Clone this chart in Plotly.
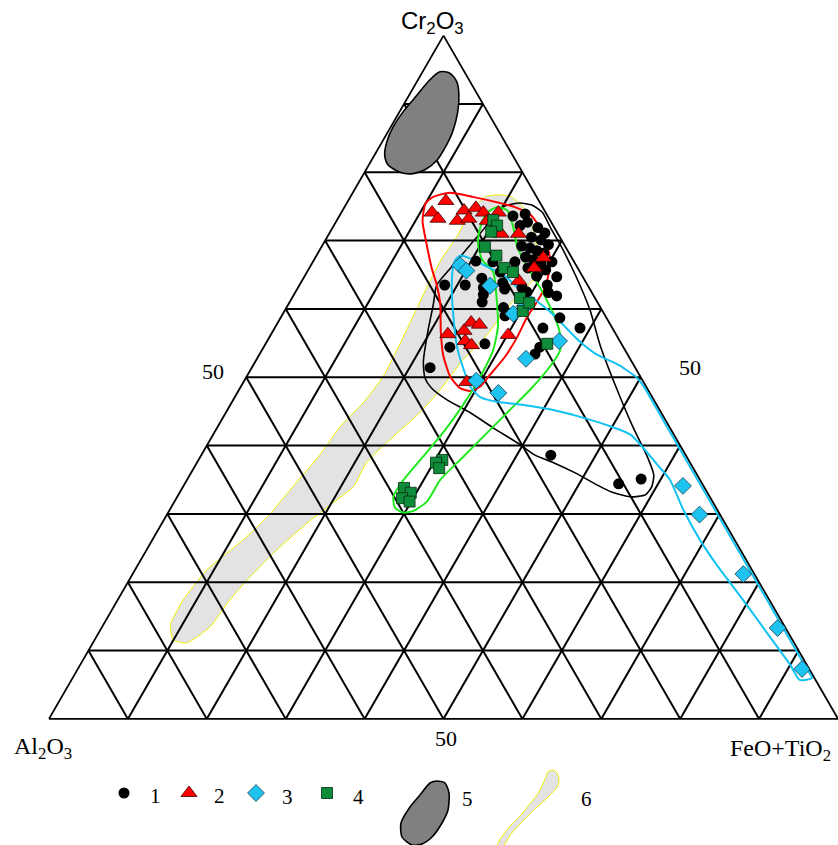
import plotly.graph_objects as go

W, H = 838, 845

# ------------------------------------------------------------------
# Compositions, wt.% normalised to 100 (Cr2O3, FeO+TiO2; Al2O3 is the rest)
# ------------------------------------------------------------------
# 1 - black circles
S1_CR = [73.6, 73.9, 72.7, 72.2, 71.9, 71.1, 70.5, 70.1, 69.4, 69.2,
         68.9, 68.5, 68.2, 67.6, 67.2, 66.7, 66.9, 66.9, 66.0, 65.7,
         64.8, 64.7, 67.0, 64.5, 63.5, 63.5, 63.1, 62.1, 61.0, 63.8,
         62.9, 63.1, 62.5, 60.2, 59.0, 63.5, 62.4, 61.9, 58.7, 57.2,
         57.2, 54.9, 54.4, 54.4, 53.4, 51.4, 38.6, 34.4, 35.1, 65.4,
         66.9]
S1_FT = [22.0, 23.4, 24.3, 23.6, 26.0, 27.3, 25.9, 27.3, 28.6, 25.3,
         26.5, 27.6, 28.6, 26.6, 27.8, 29.0, 25.6, 30.3, 27.7, 30.1,
         29.4, 32.0, 20.6, 22.6, 21.0, 18.4, 23.5, 24.0, 24.4, 25.6,
         26.3, 28.4, 29.3, 27.5, 28.3, 31.4, 32.1, 33.4, 35.4, 38.7,
         34.0, 27.8, 23.6, 35.0, 34.9, 22.6, 44.3, 55.0, 57.5, 24.5,
         22.8]

# 2 - red triangles
S2_CR = [75.8, 74.1, 73.2, 74.4, 74.8, 74.1, 72.9, 73.2, 72.9, 74.1,
         71.0, 71.0, 67.5, 66.0, 64.1, 58.0, 57.7, 56.3, 56.8, 55.3,
         54.7, 56.2, 49.3]
S2_FT = [12.4, 11.5, 12.7, 15.4, 16.7, 18.0, 15.3, 16.6, 19.1, 19.9,
         21.8, 24.0, 28.9, 28.5, 27.5, 24.5, 25.7, 22.4, 24.2, 25.1,
         26.2, 30.1, 28.3]

# 3 - blue diamonds
S3_CR = [66.4, 65.6, 63.4, 60.4, 59.3, 55.3, 52.7, 49.5, 47.7, 34.1,
         29.9, 21.2, 13.3, 7.3]
S3_FT = [18.9, 20.1, 24.2, 30.1, 29.2, 37.0, 34.1, 29.4, 33.1, 63.3,
         67.5, 77.4, 85.7, 91.8]

# 4 - green squares
S4_CR = [73.0, 72.2, 71.3, 69.1, 67.8, 66.0, 65.4, 61.6, 59.7, 60.9,
         54.9, 37.9, 37.5, 36.7, 33.8, 33.1, 32.3, 31.8]
S4_FT = [19.8, 20.7, 20.4, 20.7, 22.8, 24.7, 26.1, 28.9, 30.2, 30.4,
         35.7, 30.9, 30.3, 31.1, 28.1, 29.3, 28.6, 29.8]

# 5 - dark field (outline)
F5_CR = [94.7, 94.5, 93.2, 91.3, 88.8, 85.9, 83.6, 81.8, 80.4, 79.8,
         80.0, 81.1, 82.5, 84.4, 86.6, 88.8, 91.3, 93.5]
F5_FT = [2.2, 3.55, 5.1, 6.3, 7.4, 8.2, 8.4, 8.3, 7.5, 6.25,
         4.5, 2.4, 1.3, 0.6, 0.3, 0.45, 1.0, 1.5]

# 6 - light field (outline)
F6_CR = [76.5, 76.7, 76.3, 74.5, 71.3, 67.9, 65.0, 62.8, 60.6, 56.2,
         52.5, 48.2, 44.8, 41.6, 37.6, 34.0, 32.1, 28.7, 24.7, 20.8,
         17.4, 13.5, 11.1, 11.6, 13.8, 17.4, 21.8, 26.2, 29.6, 33.5,
         38.6, 42.7, 46.3, 50.1, 54.0, 58.8, 63.2, 67.6, 70.5, 73.5,
         75.5]
F6_FT = [17.2, 18.8, 20.6, 23.1, 25.8, 28.0, 29.4, 28.8, 28.1, 27.4,
         26.2, 25.5, 24.6, 23.1, 21.5, 21.6, 20.5, 18.4, 16.5, 15.1,
         14.2, 13.7, 11.9, 9.9, 8.5, 8.3, 9.1, 11.5, 12.9, 13.8,
         15.0, 15.5, 16.7, 17.3, 17.1, 16.7, 16.3, 16.1, 16.4, 16.3,
         16.6]

# envelope of group 1 (black)
E1_CR = [75.1, 75.5, 75.2, 74.1, 71.9, 69.4, 65.0, 59.9, 54.7, 48.9,
         43.0, 38.2, 35.7, 34.0, 32.8, 32.5, 33.2, 34.4, 36.0, 37.5,
         38.6, 40.1, 42.6, 44.8, 46.7, 48.4, 49.9, 52.3, 56.9, 60.6,
         63.5, 66.7, 69.4, 71.9, 74.1]
E1_FT = [20.3, 21.9, 23.6, 25.5, 27.6, 30.1, 34.2, 38.6, 42.5, 47.3,
         52.4, 56.8, 58.8, 59.4, 59.2, 57.4, 54.7, 52.0, 48.7, 45.2,
         42.3, 39.7, 35.0, 31.0, 27.1, 24.3, 22.7, 21.3, 19.6, 18.4,
         17.4, 18.1, 18.7, 19.3, 19.5]

# envelope of group 2 (red)
E2_CR = [74.1, 75.5, 76.4, 77.0, 76.4, 75.5, 74.9, 73.8, 71.9, 69.4,
         66.9, 65.0, 63.2, 60.6, 58.7, 55.8, 53.0, 50.3, 48.6, 48.0,
         48.4, 50.1, 53.3, 56.9, 60.6, 63.5, 66.0, 70.1, 72.7]
E2_FT = [10.4, 10.0, 10.5, 12.3, 15.5, 19.4, 21.6, 24.1, 26.3, 28.4,
         30.1, 30.8, 31.3, 31.3, 31.2, 31.4, 31.3, 30.7, 30.3, 29.4,
         27.9, 25.8, 23.3, 21.2, 19.3, 17.4, 15.5, 12.7, 11.0]

# envelope of group 3 (blue)
E3_CR = [66.0, 67.2, 67.8, 67.5, 66.2, 65.0, 63.2, 61.6, 59.6, 57.7,
         55.2, 53.3, 51.7, 49.9, 48.7, 44.0, 36.0, 28.0, 20.0, 12.0,
         7.5, 6.0, 5.7, 7.9, 12.6, 17.9, 22.5, 26.2, 30.6, 35.0,
         37.2, 41.6, 43.0, 44.2, 45.2, 46.0, 46.4, 47.1, 48.6, 51.5,
         54.3, 59.6, 63.5]
E3_FT = [18.2, 17.9, 18.2, 19.4, 22.4, 25.1, 27.7, 30.5, 33.7, 36.3,
         39.7, 42.8, 46.5, 49.6, 51.0, 55.7, 63.7, 71.7, 79.7, 87.7,
         92.2, 93.7, 92.3, 90.0, 84.7, 78.7, 73.4, 69.4, 65.1, 61.2,
         58.5, 52.9, 49.2, 45.2, 41.3, 36.7, 33.6, 31.1, 29.1, 26.7,
         24.6, 21.4, 19.3]

# envelope of group 4 (green)
E4_CR = [74.9, 74.4, 71.9, 69.1, 66.2, 63.2, 60.9, 58.7, 56.2, 54.0,
         51.5, 48.2, 45.2, 41.9, 38.3, 35.0, 31.8, 30.4, 30.2, 30.9,
         32.5, 34.7, 38.3, 41.9, 46.0, 50.6, 54.0, 57.4, 61.3, 65.4,
         67.2, 69.7, 71.9, 74.1]
E4_FT = [19.4, 20.9, 22.9, 24.8, 27.5, 30.6, 32.8, 34.8, 36.7, 37.8,
         37.7, 36.9, 35.8, 34.6, 33.3, 32.1, 32.0, 30.9, 29.8, 28.4,
         27.4, 27.4, 28.2, 29.0, 29.5, 29.6, 29.3, 28.2, 26.1, 23.6,
         21.3, 19.5, 18.7, 18.5]

AXIS_STEP = 10
TERNARY_SUM = 100
TICK_LABEL = "50"
LEGEND_NAMES = ["1", "2", "3", "4", "5", "6"]

SERIF = "Liberation Serif, Times New Roman, serif"
SANS = "Liberation Sans, Arial, sans-serif"


def tern(cr, ft):
    """a = Cr2O3, c = FeO+TiO2, b = Al2O3 (remainder to the sum)."""
    cr, ft = list(cr), list(ft)
    al = [round(TERNARY_SUM - x - y, 3) for x, y in zip(cr, ft)]
    return dict(a=cr, b=al, c=ft)


def closed(seq):
    seq = list(seq)
    return seq + seq[:1]


fig = go.Figure()

# ---- bottom layer ("ternary"): light field, sits under the grid ----
fig.add_trace(go.Scatterternary(
    subplot="ternary", mode="lines", fill="toself", fillcolor="#e3e3e3",
    line=dict(color="#f2f200", width=1, shape="spline", smoothing=0.5),
    hoverinfo="skip", showlegend=False,
    **tern(closed(F6_CR), closed(F6_FT))))

# ---- middle layer ("ternary2"): only the triangular grid ----
fig.add_trace(go.Scatterternary(
    subplot="ternary2", mode="markers", marker=dict(opacity=0, size=1),
    hoverinfo="skip", showlegend=False, **tern([TERNARY_SUM / 3],
                                                [TERNARY_SUM / 3])))

# ---- top layer ("ternary3"): dark field, envelopes, analyses ----
fig.add_trace(go.Scatterternary(
    subplot="ternary3", mode="lines", fill="toself", fillcolor="#808080",
    line=dict(color="black", width=1.6, shape="spline", smoothing=0.8),
    hoverinfo="skip", showlegend=False,
    **tern(closed(F5_CR), closed(F5_FT))))

for cr, ft, col in [(E1_CR, E1_FT, "black"), (E2_CR, E2_FT, "#ff0000"),
                    (E4_CR, E4_FT, "#1ee81e"), (E3_CR, E3_FT, "#12c2f2")]:
    fig.add_trace(go.Scatterternary(
        subplot="ternary3", mode="lines",
        line=dict(color=col, width=2 if col != "black" else 1.6,
                  shape="spline", smoothing=0.6),
        hoverinfo="skip", showlegend=False,
        **tern(closed(cr), closed(ft))))

MARKERS = [
    (S1_CR, S1_FT, dict(symbol="circle", size=11, color="black",
                        line=dict(width=0))),
    (S2_CR, S2_FT, dict(symbol="triangle-up", size=14, color="#ff0000",
                        line=dict(color="#400000", width=0.8))),
    (S3_CR, S3_FT, dict(symbol="diamond", size=13, color="#1ec3f0",
                        line=dict(color="#1c3c50", width=0.8))),
    (S4_CR, S4_FT, dict(symbol="square", size=11, color="#0e8c3a",
                        line=dict(color="#062810", width=0.8))),
]
for cr, ft, mk in MARKERS:
    fig.add_trace(go.Scatterternary(
        subplot="ternary3", mode="markers", marker=mk,
        hoverinfo="skip", showlegend=False, **tern(cr, ft)))

# ---- legend row (drawn on a hidden pixel-scaled cartesian frame) ----
LEG_Y = 793
LEG_MARK_X = [124, 189, 256, 327]
for (cr, ft, mk), lx in zip(MARKERS, LEG_MARK_X):
    fig.add_trace(go.Scatter(x=[lx], y=[LEG_Y], mode="markers", marker=mk,
                             hoverinfo="skip", showlegend=False,
                             cliponaxis=False))

LEGEND_BLOB5 = [(437, 781), (445, 783), (449, 793), (448, 810), (442, 823),
                (432, 837), (422, 844), (412, 845), (402, 837), (401, 823),
                (410, 807), (420, 795), (430, 783)]
LEGEND_BLOB6 = [(497, 846), (503, 835), (512, 824), (523, 813), (528, 806),
                (534, 799), (540, 790), (545, 779), (548, 772), (553, 770),
                (557, 773), (559, 779), (558, 786), (553, 792), (545, 800),
                (537, 807), (531, 813), (522, 822), (511, 834), (503, 846)]
for pts, fc, lc, lw in [(LEGEND_BLOB5, "#808080", "black", 1.6),
                        (LEGEND_BLOB6, "#e3e3e3", "#f2f200", 1)]:
    xs, ys = zip(*closed(pts))
    fig.add_trace(go.Scatter(x=list(xs), y=list(ys), mode="lines",
                             fill="toself", fillcolor=fc,
                             line=dict(color=lc, width=lw, shape="spline",
                                       smoothing=0.7),
                             hoverinfo="skip", showlegend=False))


def note(text, x, y, size, family, color="black"):
    return dict(text=text, x=x / W, y=1 - y / H, xref="paper", yref="paper",
                showarrow=False, xanchor="center", yanchor="middle",
                font=dict(size=size, family=family, color=color))


annotations = [
    note("Cr<sub>2</sub>O<sub>3</sub>", 432, 22, 24, SANS),
    note("Al<sub>2</sub>O<sub>3</sub>", 43, 748, 24, SERIF),
    note("FeO+TiO<sub>2</sub>", 780, 750, 24, SERIF),
    note(TICK_LABEL, 213, 371, 22, SERIF),
    note(TICK_LABEL, 690, 367, 22, SERIF),
    note(TICK_LABEL, 446, 738, 22, SERIF),
]
LEG_TEXT_X = [155, 219, 287, 358, 467, 586]
LEG_TEXT_Y = [796, 796, 797, 797, 799, 799]
for name, tx, ty in zip(LEGEND_NAMES, LEG_TEXT_X, LEG_TEXT_Y):
    annotations.append(note(name, tx, ty, 21, SERIF))

grid_axis = dict(min=0, tickmode="linear", tick0=0, dtick=AXIS_STEP,
                 showgrid=True, gridcolor="black", gridwidth=1.6,
                 showline=True, linecolor="black", linewidth=1.8,
                 showticklabels=False, ticks="", layer="above traces",
                 title=dict(text=""))
bare_axis = dict(min=0, showgrid=False, showline=False,
                 showticklabels=False, ticks="", title=dict(text=""))

TRI_DOMAIN = dict(x=[49 / W, 1.0], y=[1 - 719 / H, 1 - 35.5 / H])

fig.update_layout(
    width=W, height=H, margin=dict(l=0, r=0, t=0, b=0),
    paper_bgcolor="white", plot_bgcolor="rgba(0,0,0,0)",
    ternary=dict(sum=TERNARY_SUM, domain=TRI_DOMAIN, bgcolor="white",
                 aaxis=bare_axis, baxis=bare_axis, caxis=bare_axis),
    ternary2=dict(sum=TERNARY_SUM, domain=TRI_DOMAIN,
                  bgcolor="rgba(0,0,0,0)",
                  aaxis=grid_axis, baxis=grid_axis, caxis=grid_axis),
    ternary3=dict(sum=TERNARY_SUM, domain=TRI_DOMAIN,
                  bgcolor="rgba(0,0,0,0)",
                  aaxis=bare_axis, baxis=bare_axis, caxis=bare_axis),
    xaxis=dict(range=[0, W], domain=[0, 1], visible=False, fixedrange=True),
    yaxis=dict(range=[H, 0], domain=[0, 1], visible=False, fixedrange=True),
    annotations=annotations,
    showlegend=False,
)

fig.write_html("out.html")
